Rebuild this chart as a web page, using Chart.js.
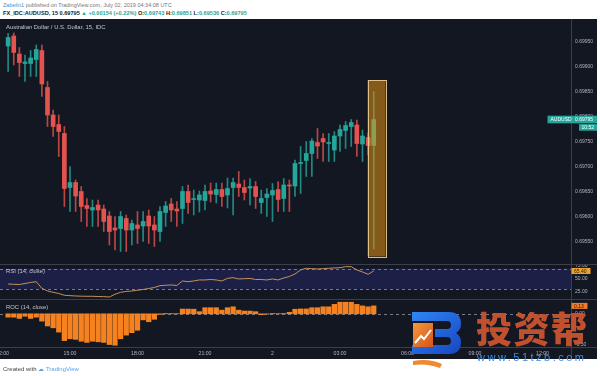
<!DOCTYPE html>
<html><head><meta charset="utf-8">
<script src="https://cdn.jsdelivr.net/npm/chart.js@4.4.1/dist/chart.umd.min.js"></script>
<style>
html,body{margin:0;padding:0;background:#fff;width:600px;height:376px;overflow:hidden;font-family:"Liberation Sans",Arial,sans-serif;}
.abs{position:absolute;white-space:nowrap;}
#hdr1{left:3px;top:2px;font-size:5.5px;color:#777;}
#hdr1 b{color:#3d8fd8;font-weight:normal;}
#hdr2{left:3px;top:10px;font-size:5.6px;color:#222;font-weight:bold;}
.g{color:#26a69a;}
#dark{left:0;top:19px;width:597px;height:340px;background:#131722;}
canvas{position:absolute;left:0;}
.sep{position:absolute;background:#3b3f4b;}
.lbl{position:absolute;color:#c3c6ce;font-size:5.9px;white-space:nowrap;}
#wm1{left:476px;top:309px;font-family:"Noto Sans CJK SC";font-weight:900;font-size:36px;line-height:1;letter-spacing:1.5px;color:rgba(208,86,48,0.92);}
#wm2{left:477px;top:351px;font-size:11px;letter-spacing:2.5px;color:#3b8ee0;}
#foot{left:3px;top:365px;font-size:6px;color:#444;}
#foot span{color:#5ba4e6;}
</style></head>
<body>
<div id="hdr1" class="abs"><b>Zabelin1</b> published on TradingView.com, July 02, 2019 04:34:08 UTC</div>
<div id="hdr2" class="abs">FX_IDC:AUDUSD, 15 0.69795 <span class="g">▲ +0.00154 (+0.22%)</span> O:<span class="g">0.69743</span> H:<span class="g">0.69851</span> L:<span class="g">0.69536</span> C:<span class="g">0.69795</span></div>
<div id="dark" class="abs"></div>
<canvas id="cPrice" width="597" height="245" style="top:19px"></canvas>
<canvas id="cRsi" width="597" height="35" style="top:264px"></canvas>
<canvas id="cRoc" width="597" height="60" style="top:299px"></canvas>
<div class="sep" style="left:0;top:264px;width:597px;height:1px"></div>
<div class="sep" style="left:0;top:299px;width:597px;height:1px"></div>
<div class="sep" style="left:0;top:347px;width:597px;height:1px"></div>
<div class="sep" style="left:571px;top:347px;width:1px;height:12px"></div>
<div class="lbl" style="left:6px;top:23.5px">Australian Dollar / U.S. Dollar, 15, IDC</div>
<div class="lbl" style="left:6px;top:267.5px">RSI (14, close)</div>
<div class="lbl" style="left:6px;top:303.5px">ROC (14, close)</div>
<svg class="abs" style="left:409px;top:309px" width="56" height="60" viewBox="0 0 56 60">
 <defs><linearGradient id="bgr" x1="0" y1="0" x2="1" y2="1"><stop offset="0" stop-color="#2f86f5"/><stop offset="1" stop-color="#1746c2"/></linearGradient>
 <linearGradient id="ogr" x1="0" y1="0" x2="1" y2="1"><stop offset="0" stop-color="#f39a3a"/><stop offset="1" stop-color="#d8531c"/></linearGradient></defs>
 <path d="M3 3 H40 Q52 3 52 15 Q52 21 47 24 Q52 27 52 33 Q52 45 40 45 H3 V36 H38 Q42 36 42 32 Q42 28 38 28 H26 V20 H38 Q42 20 42 16 Q42 12 38 12 H3 Z" fill="url(#bgr)"/>
 <rect x="4" y="14" width="20" height="24" fill="url(#ogr)"/>
 <polyline points="6,34 12,27 15,30 22,21" fill="none" stroke="#fff" stroke-width="2"/>
 <path d="M4 52 Q20 49 33 55 L31 59 Q18 54 4 56 Z" fill="#f08a30"/>
</svg>
<div id="wm1" class="abs">投资帮</div>
<div id="wm2" class="abs">www.51tzb.com</div>
<div id="foot" class="abs">Created with <span>☁ TradingView</span></div>
<script>
// ---------- data ----------
const timeLabels = ["12:00","15:00","18:00","21:00","2","03:00","06:00","09:00","12:00"];
const open  = [0.69942,0.69962,0.69926,0.69907,0.69907,0.69915,0.69933,0.69859,0.69804,0.69785,
               0.69767,0.69659,0.69669,0.69651,0.69623,0.69614,0.69624,0.69616,0.69602,0.69578,
               0.69577,0.69597,0.69574,0.69584,0.69582,0.69602,0.69584,0.69571,0.69609,0.69626,
               0.69616,0.69617,0.69651,0.69635,0.69634,0.69633,0.69652,0.69645,0.69655,0.69644,
               0.69659,0.69666,0.69659,0.69658,0.69661,0.69629,0.69639,0.69644,0.69655,0.69637,
               0.69664,0.69662,0.69707,0.69713,0.69727,0.69749,0.69757,0.69747,0.69734,0.69762,
               0.69773,0.69781,0.69784,0.69746,0.69759,0.69743];
const high  = [0.69967,0.69968,0.69939,0.69924,0.69933,0.69944,0.69944,0.69871,0.69814,0.69804,
               0.69781,0.69701,0.69674,0.69661,0.69637,0.69634,0.69634,0.69624,0.69611,0.69601,
               0.69611,0.69604,0.69594,0.69611,0.69611,0.69614,0.69601,0.69621,0.69631,0.69637,
               0.69631,0.69661,0.69664,0.69654,0.69652,0.69664,0.69668,0.69668,0.69668,0.69678,
               0.69678,0.69691,0.69674,0.69677,0.69671,0.69654,0.69657,0.69667,0.69671,0.69677,
               0.69674,0.69714,0.69741,0.69751,0.69757,0.69777,0.69767,0.69767,0.69771,0.69784,
               0.69791,0.69795,0.69794,0.69774,0.69768,0.69851];
const low   = [0.69891,0.69904,0.69881,0.69871,0.69881,0.69881,0.69841,0.69781,0.69761,0.69721,
               0.69621,0.69611,0.69611,0.69591,0.69581,0.69581,0.69581,0.69571,0.69544,0.69534,
               0.69531,0.69531,0.69544,0.69547,0.69551,0.69547,0.69541,0.69551,0.69581,0.69591,
               0.69581,0.69587,0.69607,0.69604,0.69610,0.69614,0.69630,0.69628,0.69621,0.69618,
               0.69604,0.69641,0.69634,0.69624,0.69617,0.69607,0.69601,0.69591,0.69611,0.69611,
               0.69611,0.69641,0.69647,0.69681,0.69681,0.69717,0.69711,0.69711,0.69711,0.69731,
               0.69737,0.69741,0.69721,0.69711,0.69724,0.69536];
const close = [0.69959,0.69929,0.69909,0.69910,0.69918,0.69935,0.69866,0.69804,0.69781,0.69771,
               0.69657,0.69669,0.69642,0.69621,0.69617,0.69619,0.69614,0.69591,0.69571,0.69574,
               0.69601,0.69574,0.69587,0.69577,0.69591,0.69582,0.69574,0.69611,0.69622,0.69614,
               0.69612,0.69651,0.69629,0.69636,0.69644,0.69651,0.69646,0.69655,0.69641,0.69657,
               0.69669,0.69659,0.69649,0.69661,0.69641,0.69637,0.69646,0.69653,0.69635,0.69664,
               0.69662,0.69707,0.69709,0.69727,0.69752,0.69742,0.69750,0.69748,0.69762,0.69775,
               0.69783,0.69789,0.69747,0.69762,0.69743,0.69795];
const rsi   = [40.4,39.8,39.4,41.3,43.3,44.8,32.1,26.9,24.4,22.1,
               18.7,17.9,17.3,16.9,16.7,16.7,16.3,16.0,15.4,20.6,
               24.4,26.0,26.9,28.3,29.8,31.7,33.7,37.1,37.9,38.5,
               37.5,46.2,44.8,46.2,48.1,48.1,49.0,48.1,46.2,51.3,
               52.5,50.0,50.6,51.0,49.0,49.0,48.1,50.0,48.1,51.9,
               54.8,59.6,67.3,70.6,69.8,69.2,69.8,70.6,71.2,71.7,
               73.7,73.7,67.3,63.5,59.0,65.4];
const roc   = [-0.055,-0.055,-0.076,-0.04,-0.076,-0.055,-0.12,-0.20,-0.23,-0.30,
               -0.44,-0.41,-0.42,-0.45,-0.47,-0.45,-0.46,-0.47,-0.505,-0.516,
               -0.41,-0.35,-0.31,-0.27,-0.10,-0.13,-0.09,-0.01,0.005,0.004,
               0.003,0.078,0.078,0.075,0.035,0.10,0.10,0.10,0.06,0.10,
               0.115,0.06,0.045,0.045,0.035,-0.015,-0.005,0.005,0.003,0.005,
               0.025,0.075,0.08,0.08,0.10,0.10,0.115,0.115,0.155,0.19,
               0.19,0.19,0.155,0.13,0.115,0.13];
const rsiLevels = [70, 30];
const highlightBox = {from: 64.9, to: 68.1, top: 0.69874, bottom: 0.69521};
const countdown = "10:52";
const symbol = "AUDUSD";

// ---------- helpers ----------
const FONT = "'Liberation Sans', Arial, sans-serif";
const TXT = '#b2b5be';
const UP = '#26a69a', DOWN = '#e5534f';
const UPW = 'rgba(38,166,154,0.8)', DOWNW = 'rgba(229,83,79,0.8)';
const X_MIN = -0.444, X_MAX = 101.07;
const slots = open.map((_, i) => i + 1);   // 15-minute slot index counted from 12:00
const isUp = open.map((o, i) => close[i] >= o);

function yAfterFit(s){ s.width = 26; s.paddingTop = 0; s.paddingBottom = 0; }
function xHiddenFit(s){ s.paddingLeft = 0; s.paddingRight = 0; s.height = 0; }
function xAxis(display){
  return {type:'linear', min:X_MIN, max:X_MAX, display:display, offset:false,
    grid:{display:false, drawTicks:false, offset:false}, border:{display:false},
    ticks:{stepSize:12, includeBounds:false, autoSkip:false, maxRotation:0, padding:3.5,
      color:TXT, font:{size:5.2, family:FONT},
      callback:v => timeLabels[Math.round(v/12)] ?? ''},
    afterFit: display ? (s => { s.paddingLeft = 0; s.paddingRight = 0; s.height = 12; }) : xHiddenFit};
}
function yAxis(min, max, step, dec){
  return {position:'right', min:min, max:max,
    grid:{display:false, drawTicks:false}, border:{display:true, color:'#3b3f4b', width:1},
    ticks:{stepSize:step, includeBounds:false, padding:4, color:TXT, font:{size:5, family:FONT},
      callback:v => Number(v).toFixed(dec)},
    afterFit:yAfterFit};
}
function axisLabel(ctx, area, y, text, bg, fg, w){
  ctx.save();
  ctx.fillStyle = bg;
  ctx.fillRect(area.right + 0.5, y - 3, w, 6);
  ctx.fillStyle = fg;
  ctx.font = '5px ' + FONT;
  ctx.textBaseline = 'middle';
  ctx.textAlign = 'left';
  ctx.fillText(text, area.right + 3, y + 0.3);
  ctx.restore();
}
const baseOpts = {responsive:false, animation:false, events:[],
  plugins:{legend:{display:false}, tooltip:{enabled:false}}, layout:{padding:0}};

// ---------- price pane ----------
const pricePlugin = {
  id:'pricePlugin',
  afterDatasetsDraw(chart){
    const {ctx, scales:{x, y}} = chart;
    const l = x.getPixelForValue(highlightBox.from), r = x.getPixelForValue(highlightBox.to);
    const t = y.getPixelForValue(highlightBox.top), b = y.getPixelForValue(highlightBox.bottom);
    ctx.save();
    ctx.fillStyle = 'rgba(236,150,20,0.52)';
    ctx.fillRect(l, t, r - l, b - t);
    ctx.strokeStyle = 'rgba(235,205,150,0.9)';
    ctx.lineWidth = 1;
    ctx.strokeRect(Math.round(l) + 0.5, Math.round(t) + 0.5, Math.round(r - l), Math.round(b - t));
    ctx.restore();
  },
  afterDraw(chart){
    const {ctx, chartArea:area, scales:{y}} = chart;
    const last = close.length - 1;
    const py = y.getPixelForValue(close[last]);
    ctx.save();
    ctx.fillStyle = '#26a69a';
    ctx.fillRect(area.right - 23.5, py - 3.8, 23.5 + 26, 7.6);
    ctx.fillRect(area.right + 8, py + 4.6, 18, 6.6);
    ctx.fillStyle = '#ffffff';
    ctx.font = '5px ' + FONT;
    ctx.textBaseline = 'middle';
    ctx.textAlign = 'left';
    ctx.fillText(symbol, area.right - 20.5, py + 0.3);
    ctx.fillText(close[last].toFixed(5), area.right + 4, py + 0.3);
    ctx.fillText(countdown, area.right + 10.5, py + 8.1);
    ctx.restore();
  }
};
new Chart(document.getElementById('cPrice'), {
  type:'bar',
  data:{datasets:[
    {data:slots.map((s,i)=>({x:s, y:[low[i], high[i]]})), backgroundColor:isUp.map(u=>u?UPW:DOWNW),
     barThickness:1, grouped:false, order:2},
    {data:slots.map((s,i)=>({x:s, y:[open[i], close[i]]})), backgroundColor:isUp.map(u=>u?UP:DOWN),
     barThickness:4, grouped:false, minBarLength:1, order:1}
  ]},
  options:Object.assign({}, baseOpts, {scales:{x:xAxis(false), y:yAxis(0.69506, 0.69996, 0.0005, 5)}}),
  plugins:[pricePlugin]
});

// ---------- RSI pane ----------
const rsiPlugin = {
  id:'rsiPlugin',
  beforeDatasetsDraw(chart){
    const {ctx, chartArea:a, scales:{y}} = chart;
    const yHi = y.getPixelForValue(rsiLevels[0]), yLo = y.getPixelForValue(rsiLevels[1]);
    ctx.save();
    ctx.fillStyle = 'rgba(70,70,215,0.2)';
    ctx.fillRect(a.left, yHi, a.right - a.left, yLo - yHi);
    ctx.strokeStyle = '#787b86';
    ctx.lineWidth = 1;
    ctx.setLineDash([3, 3]);
    [yHi, yLo].forEach(v => { ctx.beginPath(); ctx.moveTo(a.left, Math.round(v)+0.5); ctx.lineTo(a.right, Math.round(v)+0.5); ctx.stroke(); });
    ctx.restore();
  },
  afterDraw(chart){
    const v = rsi[rsi.length - 1];
    axisLabel(chart.ctx, chart.chartArea, chart.scales.y.getPixelForValue(v), v.toFixed(2), '#f0a32a', '#1b1b1b', 19);
  }
};
new Chart(document.getElementById('cRsi'), {
  type:'line',
  data:{datasets:[{data:slots.map((s,i)=>({x:s, y:rsi[i]})), borderColor:'#c4935a', borderWidth:1,
    pointRadius:0, tension:0, fill:false}]},
  options:Object.assign({}, baseOpts, {scales:{x:xAxis(false), y:yAxis(11.5, 78.8, 25, 2)}}),
  plugins:[rsiPlugin]
});

// ---------- ROC pane + time axis ----------
const rocPlugin = {
  id:'rocPlugin',
  beforeDatasetsDraw(chart){
    const {ctx, chartArea:a, scales:{y}} = chart;
    const y0 = Math.round(y.getPixelForValue(0)) + 0.5;
    ctx.save();
    ctx.strokeStyle = '#787b86';
    ctx.lineWidth = 1;
    ctx.setLineDash([3, 3]);
    ctx.beginPath(); ctx.moveTo(a.left, y0); ctx.lineTo(a.right, y0); ctx.stroke();
    ctx.restore();
  },
  afterDraw(chart){
    const v = roc[roc.length - 1];
    axisLabel(chart.ctx, chart.chartArea, chart.scales.y.getPixelForValue(v), v.toFixed(2), '#f07b2a', '#1b1b1b', 16);
  }
};
new Chart(document.getElementById('cRoc'), {
  type:'bar',
  data:{datasets:[{data:slots.map((s,i)=>({x:s, y:roc[i]})), backgroundColor:'#f5821f',
    barThickness:4.6, grouped:false}]},
  options:Object.assign({}, baseOpts, {scales:{x:xAxis(true), y:yAxis(-0.545, 0.243, 0.5, 2)}}),
  plugins:[rocPlugin]
});
</script>
</body></html>
